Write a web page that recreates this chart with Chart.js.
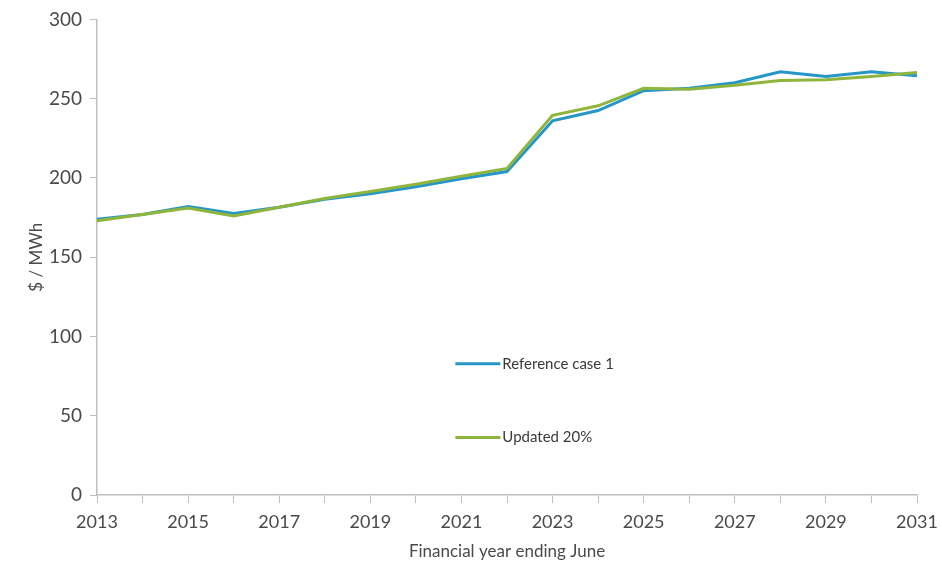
<!DOCTYPE html>
<html lang="en">
<head>
  <meta charset="UTF-8">
  <title>Price path – $/MWh</title>
  <script src="https://cdn.jsdelivr.net/npm/chart.js"></script>
  <style>
    html, body { margin: 0; padding: 0; background: #fff; }
    #wrap { width: 942px; height: 566px; }
  </style>
</head>
<body>
  <div id="wrap"><canvas id="priceChart" width="942" height="566"></canvas></div>

  <script>
    // Financial years (x categories)
    const years = ['2013','2014','2015','2016','2017','2018','2019','2020','2021','2022',
                   '2023','2024','2025','2026','2027','2028','2029','2030','2031'];
    // Only every second year gets a label
    const xTickLabels = ['2013','2015','2017','2019','2021','2023','2025','2027','2029','2031'];
    const yTicks = [0, 50, 100, 150, 200, 250, 300];

    // $/MWh values
    const referenceCase1 = [174, 177, 182, 177.5, 181.5, 186.5, 190, 194.5, 199.5, 204,
                            236, 242.5, 255, 256.5, 260, 267, 264, 267, 264.5];
    const updated20 = [173, 177, 181, 176, 181.5, 187, 191.5, 196, 201, 206,
                       239.5, 245.5, 256.5, 256, 258.5, 261.5, 262, 264, 266.5];

    const FONT = 'Lato, "Open Sans", sans-serif';
    const GREY = '#4a4a4a';
    const AXIS = '#bfbfbf';

    // legend drawn inside the plot, as in the original
    const innerLegend = {
      id: 'innerLegend',
      afterDatasetsDraw(chart) {
        const ctx = chart.ctx;
        const a = chart.chartArea;
        const rows = [0.724, 0.879]; // fraction of plot height
        chart.data.datasets.forEach((ds, i) => {
          const y = a.top + rows[i] * (a.bottom - a.top);
          const x = a.left + 0.437 * (a.right - a.left);
          ctx.save();
          ctx.strokeStyle = ds.borderColor;
          ctx.lineWidth = 3;
          ctx.beginPath();
          ctx.moveTo(x, y);
          ctx.lineTo(x + 45, y);
          ctx.stroke();
          ctx.fillStyle = '#3a3a3a';
          ctx.font = '15px ' + FONT;
          ctx.textBaseline = 'middle';
          ctx.fillText(ds.label, x + 47, y);
          ctx.restore();
        });
      }
    };

    new Chart(document.getElementById('priceChart'), {
      type: 'line',
      data: {
        labels: years,
        datasets: [
          {
            label: 'Reference case 1',
            data: referenceCase1,
            borderColor: '#2596c8',
            borderWidth: 3,
            pointRadius: 0,
            tension: 0,
            order: 1
          },
          {
            label: 'Updated 20%',
            data: updated20,
            borderColor: '#8fb53c',
            borderWidth: 3,
            pointRadius: 0,
            tension: 0,
            order: 0
          }
        ]
      },
      plugins: [innerLegend],
      options: {
        responsive: false,
        animation: false,
        layout: { padding: { top: 19, right: 25, left: 0, bottom: 0 } },
        plugins: {
          legend: { display: false },
          tooltip: { enabled: false }
        },
        scales: {
          x: {
            type: 'category',
            offset: false,
            grid: { drawOnChartArea: false, drawTicks: true, tickLength: 8, color: AXIS, offset: false },
            border: { color: AXIS, width: 1.5 },
            ticks: {
              autoSkip: false,
              maxRotation: 0,
              color: GREY,
              font: { family: FONT, size: 18 },
              padding: 8,
              callback: function (v) {
                const lab = this.getLabelForValue(v);
                return xTickLabels.includes(lab) ? lab : '';
              }
            },
            title: {
              display: true,
              text: 'Financial year ending June',
              color: GREY,
              font: { family: FONT, size: 17 },
              padding: { top: 8 }
            },
            afterFit: s => { s.height = 71; s.paddingRight = 0; s.paddingLeft = 0; }
          },
          y: {
            min: 0,
            max: 300,
            afterBuildTicks: s => { s.ticks = yTicks.map(v => ({ value: v })); },
            grid: { drawOnChartArea: false, drawTicks: true, tickLength: 7, color: AXIS },
            border: { color: AXIS, width: 1.5 },
            ticks: {
              color: GREY,
              font: { family: FONT, size: 19 },
              padding: 8
            },
            title: {
              display: true,
              text: '$ / MWh',
              color: GREY,
              font: { family: FONT, size: 17 },
              padding: { top: 26, bottom: 0 }
            },
            afterFit: s => { s.width = 97; }
          }
        }
      }
    });
  </script>
</body>
</html>
